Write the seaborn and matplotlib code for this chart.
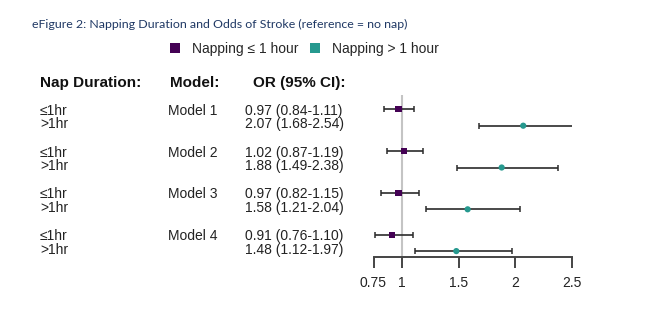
import numpy as np
import pandas as pd
import matplotlib
matplotlib.use("Agg")
import matplotlib.pyplot as plt
from matplotlib.patches import Patch
import seaborn as sns

# ---- data ----
models = ["Model 1", "Model 2", "Model 3", "Model 4"]
durations = ["\u22641hr", ">1hr"]
legend_labels = ["Napping \u2264 1 hour", "Napping > 1 hour"]
or_short = [0.97, 1.02, 0.97, 0.91]
lo_short = [0.84, 0.87, 0.82, 0.76]
hi_short = [1.11, 1.19, 1.15, 1.10]
or_long = [2.07, 1.88, 1.58, 1.48]
lo_long = [1.68, 1.49, 1.21, 1.12]
hi_long = [2.54, 2.38, 2.04, 1.97]
xticks = [0.75, 1, 1.5, 2, 2.5]
xticklabels = ["0.75", "1", "1.5", "2", "2.5"]

W, H = 647, 325
sns.set_theme(style="white")
plt.rcParams["font.family"] = ["Liberation Sans", "DejaVu Sans"]

fig = plt.figure(figsize=(W / 100, H / 100), dpi=100)

def fx(px):
    return px / W

def fy(py):
    return 1 - py / H

# layout (pixel units, from top)
g0, gstep, half = 117.5, 41.8, 8.2
text_half = 6.7

rows = []
for i, m in enumerate(models):
    c = g0 + i * gstep
    rows.append(dict(model=m, grp=legend_labels[0], OR=or_short[i], lo=lo_short[i], hi=hi_short[i], y=c - half))
    rows.append(dict(model=m, grp=legend_labels[1], OR=or_long[i], lo=lo_long[i], hi=hi_long[i], y=c + half))
df = pd.DataFrame(rows)

ax_left, ax_right, ax_top, ax_bot = 373.5, 572, 95, 257
ax = fig.add_axes([fx(ax_left), fy(ax_bot), fx(ax_right) - fx(ax_left), (ax_bot - ax_top) / H])
ax.set_xlim(0.75, 2.5)
ax.set_ylim(ax_bot, ax_top)

ax.axvline(1, color="#c4c4c4", lw=1.5, zorder=0)
ax.errorbar(df["OR"], df["y"], xerr=[df["OR"] - df["lo"], df["hi"] - df["OR"]],
            fmt="none", ecolor="#2b2b2b", elinewidth=1.2, capsize=2.0, capthick=1.1, zorder=1)
palette = {legend_labels[0]: "#440154", legend_labels[1]: "#26998f"}
sns.scatterplot(data=df, x="OR", y="y", hue="grp", style="grp",
                markers={legend_labels[0]: "s", legend_labels[1]: "o"},
                palette=palette, s=20, edgecolor="none", legend=False, ax=ax, zorder=3)

for s in ["top", "right", "left"]:
    ax.spines[s].set_visible(False)
ax.spines["bottom"].set_color("#444444")
ax.spines["bottom"].set_linewidth(1.4)
ax.set_yticks([])
ax.set_xticks(xticks)
ax.set_xticklabels(xticklabels, fontsize=10, color="#222222")
ax.tick_params(axis="x", direction="out", length=8, width=1.4, color="#444444", pad=6, bottom=True)
ax.set_xlabel("")
ax.set_ylabel("")

# ---- table text ----
hdr_y = 83
fig.text(fx(40), fy(hdr_y), "Nap Duration:", fontsize=11, fontweight="bold", va="center", ha="left", color="#111111")
fig.text(fx(170), fy(hdr_y), "Model:", fontsize=11, fontweight="bold", va="center", ha="left", color="#111111")
fig.text(fx(253), fy(hdr_y), "OR (95% CI):", fontsize=11, fontweight="bold", va="center", ha="left", color="#111111")

for i, m in enumerate(models):
    c = g0 + i * gstep
    y1, y2 = c - text_half, c + text_half
    fig.text(fx(40), fy(y1), durations[0], fontsize=10, va="center", ha="left", color="#222222")
    fig.text(fx(40), fy(y2), durations[1], fontsize=10, va="center", ha="left", color="#222222")
    fig.text(fx(168), fy(y1), m, fontsize=10, va="center", ha="left", color="#222222")
    fig.text(fx(245), fy(y1), f"{or_short[i]:.2f} ({lo_short[i]:.2f}-{hi_short[i]:.2f})",
             fontsize=10, va="center", ha="left", color="#222222")
    fig.text(fx(245), fy(y2), f"{or_long[i]:.2f} ({lo_long[i]:.2f}-{hi_long[i]:.2f})",
             fontsize=10, va="center", ha="left", color="#222222")

# ---- title ----
fig.text(fx(32), fy(24), "eFigure 2: Napping Duration and Odds of Stroke (reference = no nap)",
         fontsize=8.9, family=["Lato", "DejaVu Sans"], color="#1f3864", va="center", ha="left")

# ---- legend ----
handles = [Patch(facecolor=palette[l], edgecolor="none", label=l) for l in legend_labels]
fig.legend(handles=handles, loc="center left", bbox_to_anchor=(fx(170), fy(48.5)), ncol=2,
           frameon=False, fontsize=10, handlelength=0.75, handleheight=0.75,
           handletextpad=0.85, columnspacing=0.8, borderaxespad=0, borderpad=0)

fig.savefig("out.png", dpi=100, facecolor="white")
